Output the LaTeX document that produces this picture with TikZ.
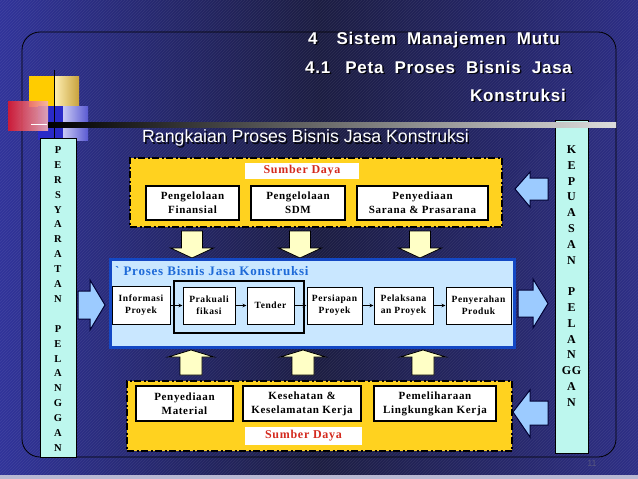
\documentclass[tikz,border=0pt]{standalone}
\usepackage{fontspec}
\setmainfont{Liberation Serif}
\newfontfamily\bxfont[LetterSpace=6]{Liberation Serif}
\newfontfamily\ttlfont[LetterSpace=4.5,WordSpace=2]{Liberation Sans}
\newfontfamily\arialfont{Liberation Sans}
\usetikzlibrary{arrows.meta}
\definecolor{bgA}{HTML}{31349A}
\definecolor{bgB}{HTML}{1C1D42}
\definecolor{bgC}{HTML}{2D2E86}
\definecolor{gold}{HTML}{FFD21F}
\definecolor{cyanbox}{HTML}{BDF7EE}
\definecolor{procfill}{HTML}{C9E7FF}
\definecolor{procedge}{HTML}{1448C4}
\definecolor{proctitle}{HTML}{1E6AD8}
\definecolor{paleyel}{HTML}{FFFFC6}
\definecolor{lblue}{HTML}{9CCBFF}
\definecolor{sumred}{HTML}{D42A1E}
\definecolor{pnum}{HTML}{55557E}
\definecolor{stripbg}{HTML}{B8B8D2}
\definecolor{ly0}{HTML}{FFCC00}
\definecolor{ly1}{HTML}{FFF0B4}
\definecolor{ly2}{HTML}{C8A23C}
\definecolor{lb1}{HTML}{2A2AC8}
\definecolor{lb2}{HTML}{C8C8F4}
\definecolor{lb3}{HTML}{5A5AD2}
\definecolor{lr1}{HTML}{E0182C}
\definecolor{lr2}{HTML}{F4B4B8}
\definecolor{barend}{HTML}{DCDCDC}
\tikzset{
  ttl/.style={font=\ttlfont\bfseries\fontsize{17}{20}\selectfont, text=white, inner sep=0},
  ttlsh/.style={ttl, text=black, opacity=0.85},
  sub/.style={font=\arialfont\fontsize{17.7}{20}\selectfont, text=white, inner sep=0},
  subsh/.style={sub, text=black, opacity=0.85},
  colbox/.style={draw=black, line width=1, fill=cyanbox, inner sep=0},
  coltext/.style={inner sep=0, align=center, text=black},
  ybox/.style={draw=black, fill=gold, line width=2.4, dash pattern=on 7pt off 2.5pt on 2pt off 2.5pt, inner sep=0},
  slabel/.style={fill=white, inner sep=0, text=sumred, font=\bxfont\bfseries\fontsize{12}{14}\selectfont},
  wbox/.style={draw=black, line width=1.2, fill=white, inner sep=0, align=center, font=\bxfont\bfseries\fontsize{11}{14}\selectfont},
  pbox/.style={draw=black, line width=1, fill=white, inner sep=0, align=center, font=\bxfont\bfseries\fontsize{9.5}{12}\selectfont},
  procbox/.style={draw=procedge, line width=3, fill=procfill, inner sep=0},
  grpbox/.style={draw=black, line width=2.6, inner sep=0},
  sarrow/.style={draw=black, line width=1, -{Stealth[length=4pt,width=3.5pt]}},
  yarrow/.style={draw=black, line width=0.8, fill=paleyel},
  barrow/.style={draw=black!80!blue, line width=1, fill=lblue},
}
\begin{document}
\begin{tikzpicture}[x=1pt,y=-1pt]
\useasboundingbox (0,0) rectangle (638,479);
% background
\shade[left color=bgA, right color=bgC, middle color=bgB] (0,0) rectangle (638,479);
\begin{scope}
\clip (0,0) rectangle (638,479);
\foreach \i in {-480,-477,...,640} \draw[white, opacity=0.07, line width=0.7] (\i,479) -- ++(479,-479);
\end{scope}
\fill[stripbg] (0,475) rectangle (638,479);
% frame
\draw[black, line width=0.8, rounded corners=18] (22,32) rectangle (616,457);
% logo
\fill[ly0] (29,76) rectangle (54,107);
\shade[left color=ly1, right color=ly2] (54,76) rectangle (79,107);
\fill[lb1] (38,106) rectangle (63,140);
\shade[left color=lb2, right color=lb3] (63,106) rectangle (88,140);
\shade[left color=lr1, right color=lr2, opacity=0.88] (8,101) rectangle (48,130);
\draw[black, line width=1] (54,70) -- (54,140);
\draw[white, line width=1.5] (31,124.5) -- (47,124.5);
% right column (behind bar)
\node[colbox, minimum width=33, minimum height=333] (rcol) at (571.5,286.5) {};
\node[coltext, font=\bxfont\bfseries\fontsize{12}{15.8}\selectfont] (rcolt) at (571.5,276)
  {K\\E\\P\\U\\A\\S\\A\\N\\\mbox{}\\P\\E\\L\\A\\N\\GG\\A\\N};
% bar
\shade[left color=black, right color=barend] (48,122) rectangle (616,127);
% titles
\node[ttlsh, anchor=west] (t1s) at (309.5,41.5) {4\hspace{19pt}Sistem Manajemen Mutu};
\node[ttl, anchor=west] (t1) at (308,40) {4\hspace{19pt}Sistem Manajemen Mutu};
\node[ttlsh, anchor=west] (t2s) at (306.5,68.5) {4.1\hspace{15pt}Peta Proses Bisnis Jasa};
\node[ttl, anchor=west] (t2) at (305,67) {4.1\hspace{15pt}Peta Proses Bisnis Jasa};
\node[ttlsh, anchor=east] (t3s) at (567.5,96.5) {Konstruksi};
\node[ttl, anchor=east] (t3) at (566,95) {Konstruksi};
\node[subsh, anchor=west] (rks) at (143.5,139.5) {Rangkaian Proses Bisnis Jasa Konstruksi};
\node[sub, anchor=west] (rk) at (142,138) {Rangkaian Proses Bisnis Jasa Konstruksi};
% left column
\node[colbox, minimum width=36, minimum height=319] (lcol) at (58,297.5) {};
\node[coltext, font=\bxfont\bfseries\fontsize{10.5}{14.9}\selectfont] (lcolt) at (58,299)
  {P\\E\\R\\S\\Y\\A\\R\\A\\T\\A\\N\\\mbox{}\\P\\E\\L\\A\\N\\G\\G\\A\\N};
% top resources
\node[ybox, minimum width=372, minimum height=69] (ytop) at (316,192.5) {};
\node[slabel, minimum width=114, minimum height=16] (stop) at (302,171) {Sumber Daya};
\node[wbox, minimum width=93, minimum height=34] (fin) at (192.5,203) {Pengelolaan\\Finansial};
\node[wbox, minimum width=94, minimum height=34] (sdm) at (298,203) {Pengelolaan\\SDM};
\node[wbox, minimum width=131, minimum height=34] (sar) at (422.5,203) {Penyediaan\\Sarana \& Prasarana};
% down arrows
\foreach \c in {192,300,420}
  \draw[yarrow] (\c-10.5,231) -- (\c+10.5,231) -- (\c+10.5,248) -- (\c+21.5,248) -- (\c,258) -- (\c-21.5,248) -- (\c-10.5,248) -- cycle;
% process box
\node[procbox, minimum width=404, minimum height=88] (proc) at (312,303) {};
\node[anchor=west, inner sep=0, text=proctitle, font=\bxfont\bfseries\fontsize{13}{15}\selectfont] (ptitle) at (115,271) {`\hspace{4pt}Proses Bisnis Jasa Konstruksi};
\node[grpbox, minimum width=130, minimum height=52] (grp) at (239,307) {};
\node[pbox, minimum width=58, minimum height=38] (info) at (141,305.5) {Informasi\\Proyek};
\node[pbox, minimum width=52, minimum height=37] (prak) at (209,305.5) {Prakuali\\fikasi};
\node[pbox, minimum width=47, minimum height=37] (tend) at (270.5,305.5) {Tender};
\node[pbox, minimum width=55, minimum height=37] (pers) at (334.5,305.5) {Persiapan\\Proyek};
\node[pbox, minimum width=59, minimum height=37] (pela) at (403.5,305.5) {Pelaksana\\an Proyek};
\node[pbox, minimum width=65, minimum height=37] (peny) at (478.5,305.5) {Penyerahan\\Produk};
\draw[sarrow] (info.east) -- (prak.west);
\draw[sarrow] (prak.east) -- (tend.west);
\draw[sarrow] (tend.east) -- (pers.west);
\draw[sarrow] (pers.east) -- (pela.west);
\draw[sarrow] (pela.east) -- (peny.west);
% up arrows
\foreach \c in {191,303,423}
  \draw[yarrow] (\c-11,375) -- (\c+11,375) -- (\c+11,357) -- (\c+23,357) -- (\c,350) -- (\c-23,357) -- (\c-11,357) -- cycle;
% bottom resources
\node[ybox, minimum width=385, minimum height=70] (ybot) at (319.5,416) {};
\node[wbox, minimum width=97, minimum height=35] (mat) at (184.5,403.5) {Penyediaan\\Material};
\node[wbox, minimum width=118, minimum height=35] (kes) at (302,403.5) {Kesehatan \&\\Keselamatan Kerja};
\node[wbox, minimum width=122, minimum height=35] (pem) at (435,403.5) {Pemeliharaan\\Lingkungkan Kerja};
\node[slabel, minimum width=117, minimum height=18] (sbot) at (303.5,436) {Sumber Daya};
% blue arrows
\draw[barrow] (78,291) -- (90,291) -- (90,280) -- (105,305) -- (90,330) -- (90,319) -- (78,319) -- cycle;
\draw[barrow] (518,290) -- (533,290) -- (533,279) -- (548,303.5) -- (533,328) -- (533,317) -- (518,317) -- cycle;
\draw[barrow] (548,178) -- (530,178) -- (530,172) -- (515,189) -- (530,207) -- (530,200) -- (548,200) -- cycle;
\draw[barrow] (548,401) -- (530,401) -- (530,390) -- (513,412) -- (530,437) -- (530,425) -- (548,425) -- cycle;
% page number
\node[inner sep=0, text=pnum, font=\arialfont\fontsize{9}{10}\selectfont] (pg) at (592,463) {11};
\end{tikzpicture}
\end{document}
